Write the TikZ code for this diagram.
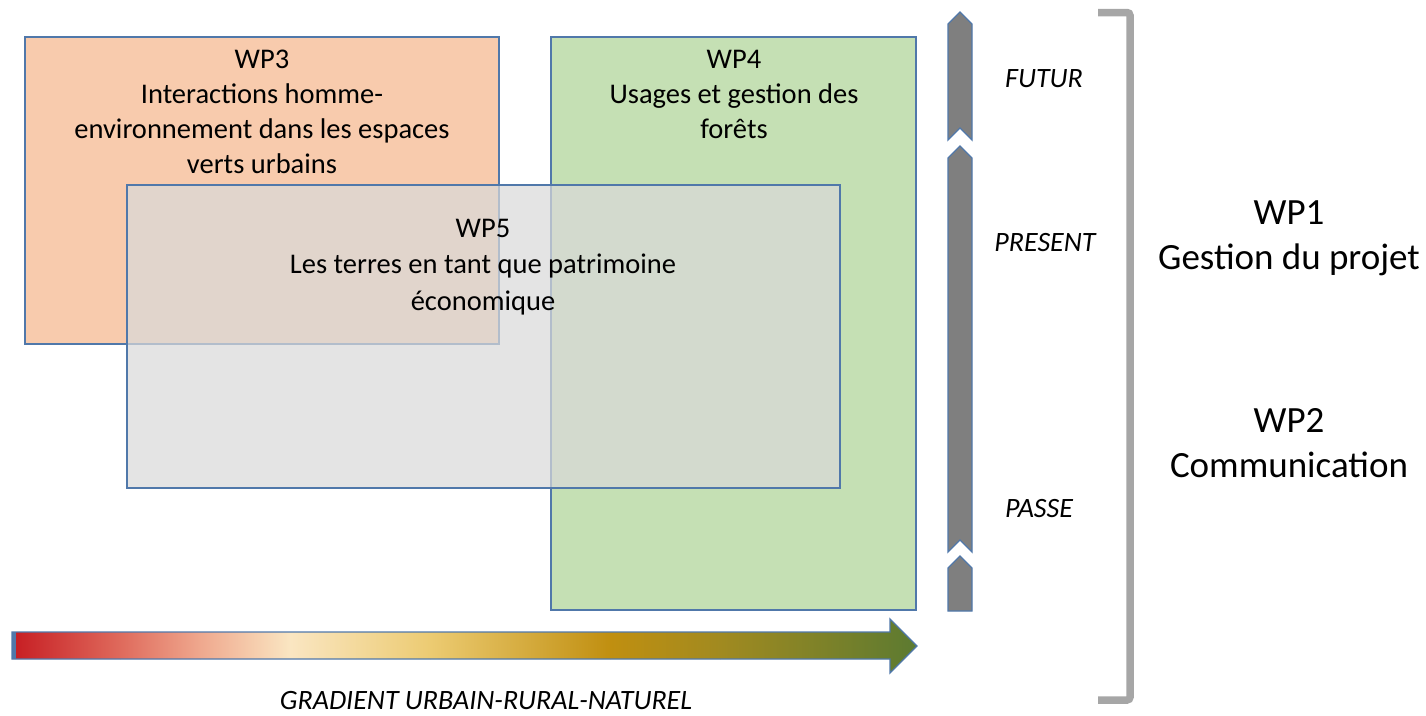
\documentclass[tikz,border=0pt]{standalone}
\usepackage{fontspec}
\setmainfont{Carlito}
\definecolor{bordr}{HTML}{5078AA}
\definecolor{wpthree}{HTML}{F8CBAD}
\definecolor{wpfour}{HTML}{C5E0B4}
\definecolor{wpfive}{HTML}{D9D9D9}
\definecolor{chev}{HTML}{7F7F7F}
\definecolor{brack}{HTML}{A6A6A6}
\definecolor{gA}{HTML}{C61C22}
\definecolor{gB}{HTML}{DF6A5C}
\definecolor{gC}{HTML}{EFA88E}
\definecolor{gD}{HTML}{FAE6C2}
\definecolor{gE}{HTML}{ECCB72}
\definecolor{gF}{HTML}{C08F10}
\definecolor{gG}{HTML}{A18A20}
\definecolor{gH}{HTML}{5B7A31}
\tikzset{
  wpbox/.style={draw=bordr, line width=1.3pt, rectangle, inner sep=0pt, outer sep=0pt, anchor=north west},
  boxtext/.style={font=\fontsize{28.5}{35}\selectfont, align=center, inner sep=0pt, anchor=north, text=black},
  sidetext/.style={font=\fontsize{37}{45}\selectfont, align=center, inner sep=0pt, anchor=north, text=black},
  timetext/.style={font=\fontsize{28}{32}\selectfont\itshape, inner sep=0pt, text=black},
  chevron/.style={fill=chev, draw=bordr, line width=1.3pt, line join=miter},
}
\begin{document}
\begin{tikzpicture}[x=1pt,y=-1pt]
\useasboundingbox (0,0) rectangle (1426,715);
% boxes
\node[wpbox, fill=wpthree, minimum width=474pt, minimum height=307pt] (wp3) at (25,37) {};
\node[wpbox, fill=wpfour, minimum width=365pt, minimum height=573pt] (wp4) at (551,37) {};
\node[wpbox, fill=wpfive, fill opacity=0.72, draw opacity=1, minimum width=713pt, minimum height=303pt] (wp5) at (127,185) {};
% box texts
\node[boxtext] (t3) at (262,50) {WP3\\Interactions homme-\\environnement dans les espaces\\verts urbains};
\node[boxtext] (t4) at (734,50) {WP4\\Usages et gestion des\\forêts};
\node[boxtext, font=\fontsize{28.5}{36.5}\selectfont] (t5) at (483,219) {WP5\\Les terres en tant que patrimoine\\économique};
% time chevrons
\draw[chevron] (948,24) -- (960,12) -- (972,24) -- (972,140) -- (960,128) -- (948,140) -- cycle;
\draw[chevron] (948,158) -- (960,146) -- (972,158) -- (972,552) -- (960,540) -- (948,552) -- cycle;
\draw[chevron] (948,568) -- (960,556) -- (972,568) -- (972,611) -- (948,611) -- cycle;
\node[timetext] (futur) at (1044,79) {FUTUR};
\node[timetext] (present) at (1045,243) {PRESENT};
\node[timetext] (passe) at (1039,509) {PASSE};
% bracket
\draw[brack, line width=7.5pt, rounded corners=3pt] (1098,12.5) -- (1130,12.5) -- (1130,700) -- (1098,700);
\node[sidetext] (wp1) at (1289,200) {WP1\\Gestion du projet};
\node[sidetext] (wp2) at (1289,408) {WP2\\Communication};
% gradient arrow
\begin{scope}
\clip (12,632) -- (890,632) -- (890,619) -- (917,646) -- (890,673) -- (890,659) -- (12,659) -- cycle;
\shade[left color=gA, right color=gB] (11,615) rectangle (120.5,680);
\shade[left color=gB, right color=gC] (120,615) rectangle (200.5,680);
\shade[left color=gC, right color=gD] (200,615) rectangle (290.5,680);
\shade[left color=gD, right color=gE] (290,615) rectangle (430.5,680);
\shade[left color=gE, right color=gF] (430,615) rectangle (610.5,680);
\shade[left color=gF, right color=gG] (610,615) rectangle (720.5,680);
\shade[left color=gG, right color=gH] (720,615) rectangle (920,680);
\end{scope}
\fill[bordr] (12,632) rectangle (16,659);
\draw[bordr, line width=1.3pt, line join=miter] (12,632) -- (890,632) -- (890,619) -- (917,646) -- (890,673) -- (890,659) -- (12,659) -- cycle;
\node[timetext] (grad) at (486,701) {GRADIENT URBAIN-RURAL-NATUREL};
\end{tikzpicture}
\end{document}
